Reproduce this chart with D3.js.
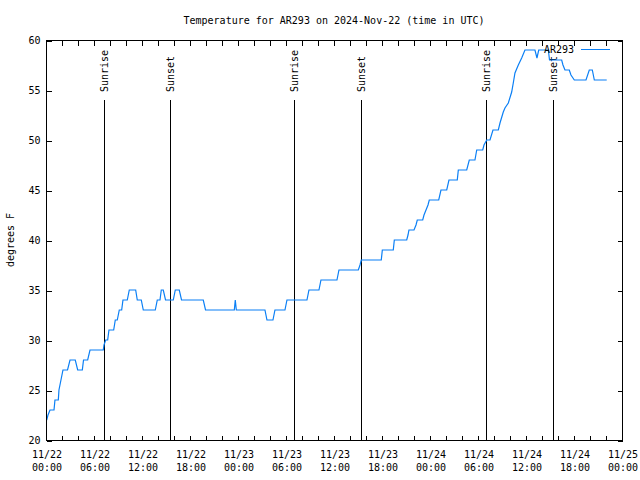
<!DOCTYPE html>
<html>
<head>
<meta charset="utf-8">
<script src="https://cdn.jsdelivr.net/npm/d3@7"></script>
<style>
  html, body { margin: 0; padding: 0; background: #fff; }
  svg { display: block; }
  text { font-family: "DejaVu Sans Mono", "Liberation Mono", monospace; font-size: 10px; fill: #000; }
</style>
</head>
<body>
<svg id="chart" width="640" height="480"></svg>
<script>
// ---- data (hours after 2024-11-22 00:00 UTC, temperature in deg F) ----
const hours = [0.09,0.25,0.5,1.0,1.12,1.54,1.62,1.87,2.12,2.69,3.0,3.66,3.96,4.54,4.69,5.21,5.5,7.16,
  7.25,7.46,7.71,7.87,8.46,8.66,8.91,9.16,9.46,9.62,10.16,10.41,11.21,11.41,11.91,12.16,13.66,13.91,
  14.25,14.41,14.66,14.94,15.91,16.16,16.66,16.94,19.66,19.94,23.54,23.66,23.79,27.37,27.62,28.37,
  28.62,29.87,30.12,32.62,32.87,34.12,34.37,36.37,36.62,39.04,39.25,39.41,41.91,42.04,43.41,43.54,
  45.09,45.25,45.37,46.0,46.25,46.41,47.09,47.25,47.5,47.75,47.91,49.09,49.37,50.09,50.37,51.41,
  51.54,52.59,52.91,53.62,53.84,54.59,54.75,55.09,55.5,55.87,56.54,56.75,57.16,57.37,57.79,58.21,
  58.41,58.62,59.04,59.46,59.87,61.12,61.37,61.59,62.79,62.94,64.46,64.62,64.87,65.41,65.62,66.04,
  67.5,67.91,68.29,68.54,70.09];
const tempF = [22,22.5,23,23,24,24,25,26,27,27,28,28,27,27,28,28,29,29,
  29.5,30,30,31,31,32,32,33,33,34,34,35,35,34,34,33,33,34,
  34,35,35,34,34,35,35,34,34,33,33,34,33,33,32,32,
  33,33,34,34,35,35,36,36,37,37,37.5,38,38,39,39,40,
  40,40.5,41,41,41.5,42,42,42.5,43,43.5,44,44,45,45,46,46,
  47,47,48,48,49,49,49.5,50,50,51,51,51.7,52.8,53.2,53.7,54.8,
  55.7,56.7,57.5,58.2,59,59,58.2,59,59,58,58,57.5,57,57,56.5,56,
  56,57,57,56,56];
const sunEvents = ["Sunrise","Sunset","Sunrise","Sunset","Sunrise","Sunset"];
const sunHours  = [7.19, 15.54, 31.04, 39.41, 55.04, 63.41];
const yTicks = [20,25,30,35,40,45,50,55,60];
const seriesName = "AR293";
const titleText = "Temperature for AR293 on 2024-Nov-22 (time in UTC)";
const yLabel = "degrees F";

// ---- layout ----
const L = 46, R = 622, T = 40, B = 440;
const t0 = Date.UTC(2024, 10, 22, 0, 0);
const toDate = h => new Date(t0 + h * 3600e3);
const fmt2 = n => String(n).padStart(2, "0");

const svg = d3.select("#chart");
const x = d3.scaleUtc().domain([toDate(0), toDate(72)]).range([L, R]);
const y = d3.scaleLinear().domain([20, 60]).range([B, T]);

const tickDates = d3.range(0, 73, 2).map(toDate);
const labelFmt = d => (d.getUTCHours() % 6 === 0) ? "lab" : "";

// bottom axis
const gx = svg.append("g").attr("transform", `translate(0.5,${B + 0.5})`)
  .call(d3.axisBottom(x).tickValues(tickDates).tickSizeInner(-5).tickSizeOuter(0).tickPadding(9).tickFormat(labelFmt));
gx.select(".domain").remove();
gx.selectAll(".tick line").attr("stroke", "#000").attr("shape-rendering", "crispEdges").attr("transform", "translate(-0.5,0)");
gx.selectAll(".tick text").each(function(d) {
  const t = d3.select(this);
  if (t.text() === "") return;
  t.text(null).attr("dy", null).attr("y", 17.5).attr("font-family", null).attr("font-size", null);
  t.append("tspan").attr("x", 0).text(`${d.getUTCMonth() + 1}/${fmt2(d.getUTCDate())}`);
  t.append("tspan").attr("x", 0).attr("dy", 13).text(`${fmt2(d.getUTCHours())}:${fmt2(d.getUTCMinutes())}`);
});

// top axis (ticks only)
const gxt = svg.append("g").attr("transform", `translate(0.5,${T + 0.5})`)
  .call(d3.axisTop(x).tickValues(tickDates).tickSizeInner(-5).tickSizeOuter(0).tickFormat(""));
gxt.select(".domain").remove();
gxt.selectAll(".tick line").attr("stroke", "#000").attr("shape-rendering", "crispEdges").attr("transform", "translate(-0.5,0)");

// left axis
const gy = svg.append("g").attr("transform", `translate(${L + 0.5},0.5)`)
  .call(d3.axisLeft(y).tickValues(yTicks).tickSizeInner(-5).tickSizeOuter(0).tickPadding(6).tickFormat(d3.format("d")));
gy.select(".domain").remove();
gy.selectAll(".tick line").attr("stroke", "#000").attr("shape-rendering", "crispEdges");
gy.selectAll(".tick text").attr("font-family", null).attr("font-size", null).attr("transform", "translate(0,-0.5)");

// right axis (ticks only)
const gyr = svg.append("g").attr("transform", `translate(${R + 0.5},0.5)`)
  .call(d3.axisRight(y).tickValues(yTicks).tickSizeInner(-5).tickSizeOuter(0).tickFormat(""));
gyr.select(".domain").remove();
gyr.selectAll(".tick line").attr("stroke", "#000").attr("shape-rendering", "crispEdges");

// sunrise / sunset lines
sunHours.forEach((h, i) => {
  const sx = Math.round(x(toDate(h))) + 0.5;
  svg.append("line").attr("x1", sx).attr("x2", sx).attr("y1", 100).attr("y2", B)
    .attr("stroke", "#000").attr("shape-rendering", "crispEdges");
  svg.append("text").attr("transform", `translate(${sx},92) rotate(-90)`)
    .attr("dy", "0.35em").attr("text-anchor", "start").text(sunEvents[i]);
});

// data line
const line = d3.line().x((d, i) => x(toDate(hours[i]))).y((d, i) => y(tempF[i]));
svg.append("path").datum(tempF).attr("d", line)
  .attr("fill", "none").attr("stroke", "#0a7ff5").attr("stroke-width", 1.2)
  .attr("stroke-linejoin", "miter");

// border
svg.append("rect").attr("x", L + 0.5).attr("y", T + 0.5).attr("width", R - L).attr("height", B - T)
  .attr("fill", "none").attr("stroke", "#000").attr("shape-rendering", "crispEdges");

// legend
svg.append("text").attr("x", 574).attr("y", 49).attr("dy", "0.35em").attr("text-anchor", "end").text(seriesName);
svg.append("line").attr("x1", 581).attr("x2", 610).attr("y1", 49.5).attr("y2", 49.5)
  .attr("stroke", "#0a7ff5").attr("shape-rendering", "crispEdges");

// title
svg.append("text").attr("x", 334).attr("y", 20).attr("dy", "0.35em").attr("text-anchor", "middle").text(titleText);

// y label
svg.append("text").attr("transform", "translate(10,240) rotate(-90)").attr("dy", "0.35em")
  .attr("text-anchor", "middle").text(yLabel);
</script>
</body>
</html>
